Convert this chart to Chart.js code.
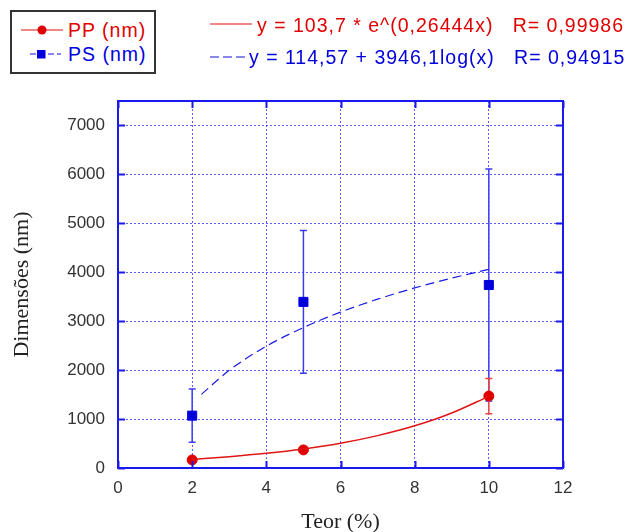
<!DOCTYPE html>
<html>
<head>
<meta charset="utf-8">
<script src="https://cdn.jsdelivr.net/npm/chart.js@4"></script>
<style>
  html, body { margin: 0; padding: 0; background: #fff; }
  #wrap { position: relative; width: 638px; height: 532px; font-family: "Liberation Sans", Arial, sans-serif; }
  #chart { position: absolute; left: 0; top: 0; }
  .legend { position: absolute; left: 10px; top: 10px; width: 142px; height: 60px; border: 2px solid #333; background: #fff; }
  .row { position: absolute; font-size: 19.5px; letter-spacing: 1px; line-height: 20px; white-space: pre; }
  .sample { position: absolute; }
</style>
</head>
<body>
<div id="wrap">
  <canvas id="chart" width="638" height="532"></canvas>
  <div class="legend"></div>
  <svg class="sample" style="left:0;top:0" width="270" height="70">
    <line x1="21" y1="30" x2="63" y2="30" stroke="#e01010" stroke-width="1.2"/>
    <circle cx="42" cy="30" r="4.5" fill="#e00000"/>
    <line x1="30" y1="54" x2="61" y2="54" stroke="#1010e0" stroke-width="1.2" stroke-dasharray="6,3"/>
    <rect x="37" y="50" width="8.5" height="8.5" fill="#0000dd"/>
    <line x1="210" y1="24" x2="252" y2="24" stroke="#e01010" stroke-width="1.2"/>
    <line x1="210" y1="57" x2="245" y2="57" stroke="#1010e0" stroke-width="1.2" stroke-dasharray="9,4"/>
  </svg>
  <div class="row" style="left:68px;top:20px;color:#e00000">PP (nm)</div>
  <div class="row" style="left:68px;top:44px;color:#0000dd">PS (nm)</div>
  <div class="row" style="left:257px;top:15px;color:#e00000">y = 103,7 * e^(0,26444x)   R= 0,99986</div>
  <div class="row" style="left:249px;top:47px;color:#0000dd">y = 114,57 + 3946,1log(x)   R= 0,94915</div>
</div>
<script>
// valores
const teor = [2, 5, 10];
const ppValues = [165, 370, 1470];
const ppErrors = [0, 0, 360];
const psValues = [1070, 3395, 3740];
const psErrors = [545, 1460, 2370];

// curvas de ajuste
const ppFitX = [2, 3, 4, 5, 6, 7, 8, 9, 10];
const ppFitY = [175, 230, 299, 389, 506, 662, 862, 1125, 1465];
const psFitX = [2.25, 3, 4, 5, 6, 7, 8, 9, 10];
const psFitY = [1505, 1997, 2490, 2870, 3185, 3450, 3680, 3880, 4060];

const xTicks = [0, 2, 4, 6, 8, 10, 12];
const yTicks = [0, 1000, 2000, 3000, 4000, 5000, 6000, 7000];

const toPoints = (xs, ys) => xs.map((x, i) => ({ x: x, y: ys[i] }));

const AXIS_BLUE = '#1a1aee';
const GRID_BLUE = 'rgba(40,40,255,0.75)';
const NONE = 'rgba(0,0,0,0)';

// desenha barras de erro, moldura e ticks internos
const framePlugin = {
  id: 'frame',
  beforeDatasetsDraw(chart) {
    const ctx = chart.ctx;
    const xs = chart.scales.x, ys = chart.scales.y;
    const bars = [
      { vals: psValues, errs: psErrors, color: '#3b3bf0' },
      { vals: ppValues, errs: ppErrors, color: '#ee4040' }
    ];
    ctx.save();
    ctx.lineWidth = 1.5;
    bars.forEach(b => {
      ctx.strokeStyle = b.color;
      teor.forEach((t, i) => {
        if (!b.errs[i]) return;
        const px = xs.getPixelForValue(t);
        const top = ys.getPixelForValue(b.vals[i] + b.errs[i]);
        const bot = ys.getPixelForValue(b.vals[i] - b.errs[i]);
        ctx.beginPath();
        ctx.moveTo(px, top); ctx.lineTo(px, bot);
        ctx.moveTo(px - 3.5, top); ctx.lineTo(px + 3.5, top);
        ctx.moveTo(px - 3.5, bot); ctx.lineTo(px + 3.5, bot);
        ctx.stroke();
      });
    });
    ctx.restore();
  },
  afterDraw(chart) {
    const ctx = chart.ctx;
    const a = chart.chartArea;
    const xs = chart.scales.x, ys = chart.scales.y;
    ctx.save();
    ctx.strokeStyle = AXIS_BLUE;
    ctx.lineWidth = 2;
    ctx.strokeRect(a.left, a.top, a.right - a.left, a.bottom - a.top);
    ctx.beginPath();
    const len = 7;
    yTicks.forEach(v => {
      const py = Math.round(ys.getPixelForValue(v)) + 0.5;
      ctx.moveTo(a.left, py); ctx.lineTo(a.left + len, py);
      ctx.moveTo(a.right, py); ctx.lineTo(a.right - len, py);
    });
    xTicks.forEach(v => {
      const px = Math.round(xs.getPixelForValue(v)) + 0.5;
      ctx.moveTo(px, a.bottom); ctx.lineTo(px, a.bottom - len);
      ctx.moveTo(px, a.top); ctx.lineTo(px, a.top + len);
    });
    ctx.stroke();
    ctx.restore();
  }
};

new Chart(document.getElementById('chart'), {
  type: 'scatter',
  data: {
    datasets: [
      {
        label: 'PP ajuste',
        data: toPoints(ppFitX, ppFitY),
        showLine: true,
        borderColor: '#e01515',
        borderWidth: 1.5,
        pointRadius: 0,
        cubicInterpolationMode: 'monotone'
      },
      {
        label: 'PS ajuste',
        data: toPoints(psFitX, psFitY),
        showLine: true,
        borderColor: '#1a1ae0',
        borderWidth: 1.2,
        borderDash: [9, 5],
        pointRadius: 0,
        cubicInterpolationMode: 'monotone'
      },
      {
        label: 'PP (nm)',
        data: toPoints(teor, ppValues),
        pointStyle: 'circle',
        pointRadius: 5,
        backgroundColor: '#e00000',
        borderColor: '#e00000'
      },
      {
        label: 'PS (nm)',
        data: toPoints(teor, psValues),
        pointStyle: 'rect',
        pointRadius: 6.4,
        backgroundColor: '#0000dd',
        borderColor: '#0000dd'
      }
    ]
  },
  options: {
    responsive: false,
    animation: false,
    devicePixelRatio: 1,
    layout: { padding: { top: 101, right: 75, bottom: 0, left: 0 } },
    plugins: { legend: { display: false }, tooltip: { enabled: false } },
    scales: {
      x: {
        type: 'linear',
        min: 0, max: 12,
        afterBuildTicks: s => { s.ticks = xTicks.map(v => ({ value: v })); },
        afterFit: s => { s.height = 64; },
        ticks: { color: '#333', padding: 10, font: { size: 17, family: 'Liberation Sans' }, callback: v => String(v) },
        grid: { drawTicks: false, color: c => (c.tick.value === 0 || c.tick.value === 12) ? NONE : GRID_BLUE, lineWidth: 1 },
        border: { display: false, dash: [2, 2] },
        title: { display: true, text: 'Teor (%)', color: '#222', padding: 0, font: { size: 22, family: 'Liberation Serif', lineHeight: 0.9 } }
      },
      y: {
        type: 'linear',
        min: 0, max: 7500,
        afterBuildTicks: s => { s.ticks = yTicks.map(v => ({ value: v })); },
        afterFit: s => { s.width = 118; },
        ticks: { color: '#333', padding: 13, font: { size: 17, family: 'Liberation Sans' }, callback: v => String(v) },
        grid: { drawTicks: false, color: c => (c.tick.value === 0) ? NONE : GRID_BLUE, lineWidth: 1 },
        border: { display: false, dash: [2, 2] },
        title: { display: true, text: 'Dimensões (nm)', color: '#222', padding: { top: 9, bottom: 0 }, font: { size: 22, family: 'Liberation Serif' } }
      }
    }
  },
  plugins: [framePlugin]
});
</script>
</body>
</html>
